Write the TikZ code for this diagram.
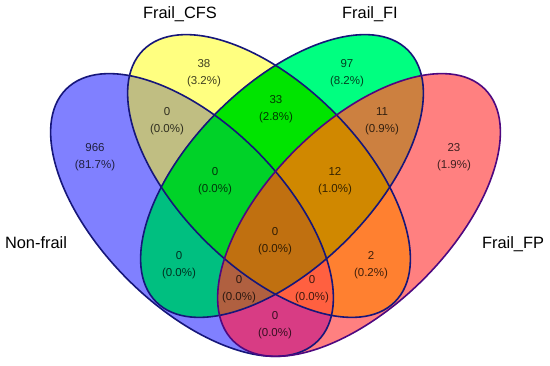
\documentclass[tikz,border=0pt]{standalone}
\usepackage{fontspec}
\setmainfont{Liberation Sans}
\usepackage{tikz}

\definecolor{cNF}{HTML}{8080FF}
\definecolor{cCFS}{HTML}{FFFF80}
\definecolor{cFI}{HTML}{00FF80}
\definecolor{cFP}{HTML}{FF8080}
\definecolor{cNFCFS}{HTML}{C0BE82}
\definecolor{cNFFI}{HTML}{00BF80}
\definecolor{cNFFP}{HTML}{D83C84}
\definecolor{cCFSFI}{HTML}{00E400}
\definecolor{cCFSFP}{HTML}{FF8030}
\definecolor{cFIFP}{HTML}{CC8040}
\definecolor{cNFCFSFI}{HTML}{00D228}
\definecolor{cNFCFSFP}{HTML}{FF6040}
\definecolor{cNFFIFP}{HTML}{B06040}
\definecolor{cCFSFIFP}{HTML}{D08800}
\definecolor{cAll}{HTML}{C07010}
\definecolor{edgeblue}{HTML}{16167A}
\definecolor{edgepurple}{HTML}{4E0880}

\newcommand\pathNF{(192,150) circle [x radius=178, y radius=91, rotate=-45]}
\newcommand\pathCFS{(269,189) circle [x radius=178, y radius=91, rotate=-45]}
\newcommand\pathFI{(282,189) circle [x radius=178, y radius=91, rotate=45]}
\newcommand\pathFP{(359,150) circle [x radius=178, y radius=91, rotate=45]}

\begin{document}
\begin{tikzpicture}[
    x=1pt,y=1pt,
    setname/.style={inner sep=0pt, font=\fontsize{16.4}{18}\selectfont},
    count/.style={inner sep=0pt, align=center, font=\fontsize{11.5}{17}\selectfont},
    outline/.style={line width=1.6pt, draw=edgeblue}
  ]
    \useasboundingbox[fill=white] (0,0) rectangle (550,365);

    % single sets
    \fill[cNF] \pathNF;
    \fill[cCFS] \pathCFS;
    \fill[cFI] \pathFI;
    \fill[cFP] \pathFP;

    % pairs
    \begin{scope} \clip \pathNF; \fill[cNFCFS] \pathCFS; \end{scope}
    \begin{scope} \clip \pathNF; \fill[cNFFI] \pathFI; \end{scope}
    \begin{scope} \clip \pathNF; \fill[cNFFP] \pathFP; \end{scope}
    \begin{scope} \clip \pathCFS; \fill[cCFSFI] \pathFI; \end{scope}
    \begin{scope} \clip \pathCFS; \fill[cCFSFP] \pathFP; \end{scope}
    \begin{scope} \clip \pathFI; \fill[cFIFP] \pathFP; \end{scope}

    % triples
    \begin{scope} \clip \pathNF; \clip \pathCFS; \fill[cNFCFSFI] \pathFI; \end{scope}
    \begin{scope} \clip \pathNF; \clip \pathCFS; \fill[cNFCFSFP] \pathFP; \end{scope}
    \begin{scope} \clip \pathNF; \clip \pathFI; \fill[cNFFIFP] \pathFP; \end{scope}
    \begin{scope} \clip \pathCFS; \clip \pathFI; \fill[cCFSFIFP] \pathFP; \end{scope}

    % all four
    \begin{scope} \clip \pathNF; \clip \pathCFS; \clip \pathFI; \fill[cAll] \pathFP; \end{scope}

    \draw[outline] \pathNF;
    \draw[outline] \pathCFS;
    \draw[outline] \pathFI;
    \draw[outline, draw=edgepurple] \pathFP;

    \node[setname] (nfname) at (36,122) {Non-frail};
    \node[setname] (cfsname) at (180,351) {Frail\_CFS};
    \node[setname] (finame) at (370,351) {Frail\_FI};
    \node[setname] (fpname) at (513,121) {Frail\_FP};

    \node[count, text=cNF!25!black] (nf) at (95,208) {966\\(81.7\%)};
    \node[count, text=cCFS!25!black] (cfs) at (204,292) {38\\(3.2\%)};
    \node[count, text=cFI!25!black] (fi) at (347,292) {97\\(8.2\%)};
    \node[count, text=cFP!25!black] (fp) at (454,208) {23\\(1.9\%)};
    \node[count, text=cNFCFS!25!black] (nfcfs) at (167,244) {0\\(0.0\%)};
    \node[count, text=cCFSFI!25!black] (cfsfi) at (276,256) {33\\(2.8\%)};
    \node[count, text=cFIFP!25!black] (fifp) at (382,244) {11\\(0.9\%)};
    \node[count, text=cNFCFSFI!25!black] (nfcfsfi) at (215,184) {0\\(0.0\%)};
    \node[count, text=cCFSFIFP!25!black] (cfsfifp) at (335,184) {12\\(1.0\%)};
    \node[count, text=cAll!25!black] (all) at (275,124) {0\\(0.0\%)};
    \node[count, text=cNFFI!25!black] (nffi) at (179,100) {0\\(0.0\%)};
    \node[count, text=cCFSFP!25!black] (cfsfp) at (371,100) {2\\(0.2\%)};
    \node[count, text=cNFFIFP!25!black] (nffifp) at (239,76) {0\\(0.0\%)};
    \node[count, text=cNFCFSFP!25!black] (nfcfsfp) at (312,76) {0\\(0.0\%)};
    \node[count, text=cNFFP!25!black] (nffp) at (275,40) {0\\(0.0\%)};
\end{tikzpicture}
\end{document}
